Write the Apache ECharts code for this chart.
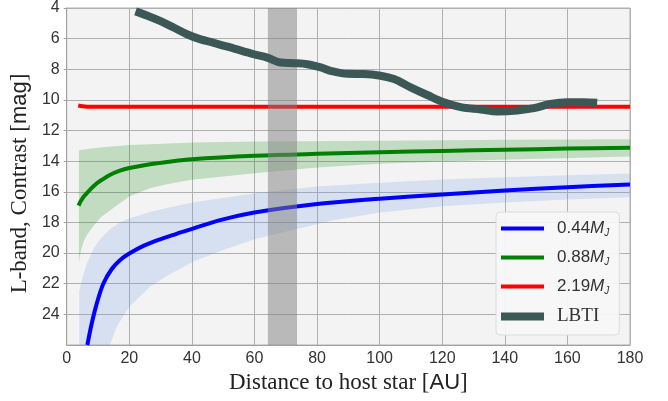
<!DOCTYPE html>
<html><head><meta charset="utf-8">
<script src="https://cdn.jsdelivr.net/npm/echarts@6/dist/echarts.min.js"></script>
<style>html,body{margin:0;padding:0;background:#fff}#c{width:668px;height:401px}</style>
</head><body><div id="c"></div>
<script>
// ---- data ----
const xTicks = [0, 20, 40, 60, 80, 100, 120, 140, 160, 180];
const yTicks = [4, 6, 8, 10, 12, 14, 16, 18, 20, 22, 24];

const blueX = [6.6, 8, 9.6, 11.7, 14.4, 17, 20, 24.5, 29.8, 35.1, 41, 50, 60, 80, 100, 120, 140, 160, 180];
const blueY = [26.0, 24.6, 23.3, 22.0, 21.04, 20.46, 20.03, 19.53, 19.1, 18.74, 18.35, 17.8, 17.35, 16.8, 16.45, 16.17, 15.92, 15.7, 15.52];

const blueUpX = [4, 4.8, 6.4, 8.5, 10.6, 13.8, 17, 20, 26.6, 32, 41, 50, 60, 80, 100, 120, 140, 160, 180];
const blueUpY = [22.5, 21.8, 20.7, 19.75, 19.1, 18.45, 18.0, 17.74, 17.31, 17.05, 16.67, 16.4, 16.1, 15.65, 15.4, 15.2, 15.05, 14.92, 14.8];
const blueLoX = [4, 13.8, 16, 20, 26.6, 32, 41, 50, 60, 84, 100, 120, 140, 160, 180];
const blueLoY = [26, 26, 24.8, 23.5, 22.2, 21.5, 20.5, 19.8, 19.1, 17.9, 17.35, 16.95, 16.7, 16.5, 16.35];

const greenX = [3.8, 4.5, 5.3, 6.4, 7.5, 9, 10.6, 13.8, 17, 20, 26.6, 32, 40, 60, 80, 100, 120, 140, 160, 180];
const greenY = [16.9, 16.6, 16.35, 16.1, 15.85, 15.55, 15.3, 14.9, 14.62, 14.45, 14.2, 14.05, 13.87, 13.65, 13.52, 13.42, 13.33, 13.25, 13.18, 13.12];

const greenUpX = [3.9, 6.4, 10.6, 20, 41, 60, 100, 140, 180];
const greenUpY = [13.28, 13.21, 13.1, 12.95, 12.78, 12.72, 12.66, 12.6, 12.57];
const greenLoX = [3.9, 4.5, 5.3, 6.5, 8.7, 11, 14.9, 20, 26.6, 32, 40, 50, 60, 80, 100, 135.5, 180];
const greenLoY = [20.6, 19.9, 19.3, 18.8, 18.2, 17.65, 17.05, 16.3, 15.76, 15.5, 15.22, 15.0, 14.78, 14.42, 14.17, 13.93, 13.7];

const redX = [3.7, 5, 6.4, 20, 60, 120, 180];
const redY = [10.36, 10.41, 10.44, 10.45, 10.45, 10.45, 10.45];

const lbtiX = [22.0, 25.8, 30.0, 34.3, 38.6, 42.8, 47.0, 53.5, 59.8, 64.1, 68.4, 72.6, 76.9, 81.2, 84.3, 89.7, 95.0, 100.3, 104.6, 109.9, 115.2, 120.5, 125.9, 132.3, 137.6, 144.0, 149.3, 154.6, 160.0, 165.3, 169.5];
const lbtiY = [4.22, 4.5, 4.86, 5.29, 5.73, 6.05, 6.27, 6.65, 7.02, 7.24, 7.56, 7.6, 7.67, 7.88, 8.1, 8.3, 8.31, 8.42, 8.64, 9.18, 9.68, 10.15, 10.47, 10.62, 10.75, 10.69, 10.54, 10.26, 10.15, 10.15, 10.19];

const grayBand = [64.3, 73.6];
const yMin = 4, yMax = 26;
const seriesNames = ['0.44', '0.88', '2.19', 'LBTI'];

// ---- chart ----
const zip = (xs, ys) => xs.map((x, i) => [x, ys[i]]);
function band(name, ux, uy, lx, ly, color) {
  return {
    name: name, type: 'custom', z: 1, silent: true, clip: true,
    data: [[ux[0], uy[0]]],
    renderItem: (params, api) => {
      const pts = [];
      ux.forEach((x, i) => pts.push(api.coord([x, uy[i]])));
      for (let i = lx.length - 1; i >= 0; i--) pts.push(api.coord([lx[i], ly[i]]));
      return { type: 'polygon', shape: { points: pts }, style: { fill: color } };
    }
  };
}
const lineSer = (name, xs, ys, color, w, z) => ({
  name: name, type: 'line', data: zip(xs, ys), symbol: 'none', smooth: 0.35,
  lineStyle: { color: color, width: w, cap: 'butt' }, itemStyle: { color: color },
  z: z, clip: true, silent: true
});

const thinIcon = 'path://M0,0h43v0.01h-43zM0,2h43v4h-43zM0,7.99h43v0.01h-43z';
const chart = echarts.init(document.getElementById('c'), null, { renderer: 'canvas' });
const sansFont = 'Liberation Sans';
const serifFont = 'Liberation Serif';
chart.setOption({
  animation: false,
  grid: { left: 66, right: 38, top: 5, bottom: 56, show: true, backgroundColor: '#f3f3f3', borderColor: '#b0b0b0', borderWidth: 1 },
  xAxis: {
    type: 'value', min: xTicks[0], max: xTicks[xTicks.length - 1], interval: 20,
    name: '{s|Distance to host star [}{a|AU}{s|]}', nameLocation: 'middle', nameGap: 25,
    nameTextStyle: { rich: { s: { fontFamily: serifFont, fontSize: 23, color: '#222' }, a: { fontFamily: sansFont, fontSize: 22, color: '#222' } } },
    axisLine: { show: true, lineStyle: { color: '#a0a0a0' } },
    axisTick: { show: false },
    axisLabel: { fontFamily: sansFont, fontSize: 16, color: '#333', margin: 6 },
    splitLine: { show: true, lineStyle: { color: '#b0b0b0', width: 1 } }
  },
  yAxis: {
    type: 'value', inverse: true, min: yMin, max: yMax, interval: 2,
    name: '{s|L-band, Contrast [}{a|mag}{s|]}', nameLocation: 'middle', nameGap: 20,
    nameTextStyle: { padding: [0, 14, 0, 0], rich: { s: { fontFamily: serifFont, fontSize: 23, color: '#222' }, a: { fontFamily: sansFont, fontSize: 22, color: '#222' } } },
    axisLine: { show: true, lineStyle: { color: '#a0a0a0' } },
    axisTick: { show: true, length: 3, lineStyle: { color: '#a0a0a0' } },
    axisLabel: { fontFamily: sansFont, fontSize: 16, color: '#333', margin: 7, showMaxLabel: false,
      formatter: v => (yTicks.indexOf(v) >= 0 ? String(v) : '') },
    splitLine: { show: true, lineStyle: { color: '#b0b0b0', width: 1 } }
  },
  legend: {
    data: [
      { name: seriesNames[0], icon: thinIcon },
      { name: seriesNames[1], icon: thinIcon },
      { name: seriesNames[2], icon: thinIcon },
      { name: seriesNames[3], icon: 'rect' }
    ],
    orient: 'vertical', left: 496, top: 212,
    itemWidth: 43, itemHeight: 8, itemGap: 10.5, symbolKeepAspect: false,
    padding: [8, 10, 9, 5],
    backgroundColor: 'rgba(247,247,247,0.95)', borderColor: '#dcdcdc', borderWidth: 1, borderRadius: 4,
    formatter: n => n === 'LBTI' ? '{t|LBTI}' : '{n|' + n + '}{m|M}{j|J}',
    textStyle: {
      rich: {
        n: { fontFamily: sansFont, fontSize: 17, color: '#333', lineHeight: 20, padding: [0, 0, 0, 8] },
        m: { fontFamily: sansFont, fontStyle: 'italic', fontSize: 17, color: '#333', lineHeight: 20 },
        j: { fontFamily: sansFont, fontStyle: 'italic', fontSize: 10, color: '#333', lineHeight: 10, verticalAlign: 'bottom' },
        t: { fontFamily: serifFont, fontSize: 19, color: '#333', lineHeight: 20, padding: [0, 0, 0, 8] }
      }
    }
  },
  series: [
    band('blueBand', blueUpX, blueUpY, blueLoX, blueLoY, 'rgba(100,149,237,0.2)'),
    band('greenBand', greenUpX, greenUpY, greenLoX, greenLoY, 'rgba(0,128,0,0.2)'),
    lineSer(seriesNames[0], blueX, blueY, '#0000ff', 4, 2),
    lineSer(seriesNames[1], greenX, greenY, '#008000', 4, 2),
    lineSer(seriesNames[2], redX, redY, '#ff0000', 4, 2),
    {
      name: 'grayBand', type: 'custom', z: 3, silent: true,
      encode: { x: [0, 1] },
      data: [grayBand],
      renderItem: (params, api) => {
        const p0 = api.coord([api.value(0), yMin]);
        const p1 = api.coord([api.value(1), yMax]);
        return { type: 'rect', shape: { x: p0[0], y: p0[1], width: p1[0] - p0[0], height: p1[1] - p0[1] },
          style: { fill: 'rgba(128,128,128,0.5)' } };
      }
    },
    lineSer(seriesNames[3], lbtiX, lbtiY, '#3b5756', 8, 4)
  ]
});
</script></body></html>
